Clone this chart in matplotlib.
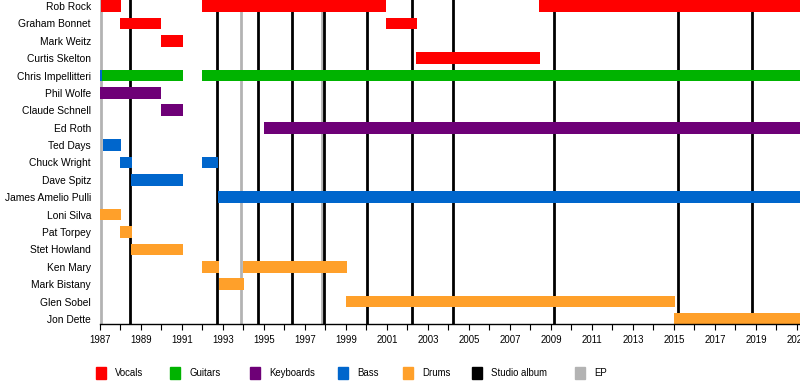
import matplotlib
matplotlib.use("Agg")
import matplotlib.pyplot as plt
from matplotlib.patches import Rectangle

FONT = ['Liberation Sans', 'DejaVu Sans']
plt.rcParams['font.family'] = FONT

members = ["Rob Rock", "Graham Bonnet", "Mark Weitz", "Curtis Skelton",
           "Chris Impellitteri", "Phil Wolfe", "Claude Schnell", "Ed Roth",
           "Ted Days", "Chuck Wright", "Dave Spitz", "James Amelio Pulli",
           "Loni Silva", "Pat Torpey", "Stet Howland", "Ken Mary",
           "Mark Bistany", "Glen Sobel", "Jon Dette"]

END = 2021.15
bar_member = ["Rob Rock", "Rob Rock", "Rob Rock",
              "Graham Bonnet", "Graham Bonnet",
              "Mark Weitz", "Curtis Skelton",
              "Chris Impellitteri", "Chris Impellitteri", "Chris Impellitteri",
              "Phil Wolfe", "Claude Schnell", "Ed Roth",
              "Ted Days", "Chuck Wright", "Chuck Wright", "Dave Spitz",
              "James Amelio Pulli",
              "Loni Silva", "Pat Torpey", "Stet Howland",
              "Ken Mary", "Ken Mary", "Mark Bistany", "Glen Sobel", "Jon Dette"]
bar_start = [1987.05, 1992.0, 2008.42,
             1988.0, 2000.93,
             1990.0, 2002.42,
             1987.0, 1987.1, 1992.0,
             1987.0, 1990.0, 1995.0,
             1987.15, 1988.0, 1992.0, 1988.5,
             1992.77,
             1987.0, 1988.0, 1988.5,
             1992.0, 1993.96, 1992.8, 1999.0, 2015.0]
bar_end = [1988.03, 2000.93, END,
           1990.0, 2002.45,
           1991.05, 2008.45,
           1987.1, 1991.05, END,
           1990.0, 1991.05, END,
           1988.03, 1988.55, 1992.75, 1991.05,
           END,
           1988.03, 1988.55, 1991.05,
           1992.82, 1999.05, 1994.02, 2015.05, END]
bar_role = ["Vocals", "Vocals", "Vocals",
            "Vocals", "Vocals",
            "Vocals", "Vocals",
            "Bass", "Guitars", "Guitars",
            "Keyboards", "Keyboards", "Keyboards",
            "Bass", "Bass", "Bass", "Bass",
            "Bass",
            "Drums", "Drums", "Drums",
            "Drums", "Drums", "Drums", "Drums", "Drums"]

studio_albums = [1988.46, 1992.70, 1994.70, 1996.38, 1997.95, 2000.04,
                 2002.20, 2004.24, 2009.16, 2015.21, 2018.83]
eps = [1987.06, 1993.90, 1997.83]

legend_labels = ["Vocals", "Guitars", "Keyboards", "Bass", "Drums",
                 "Studio album", "EP"]
colors = {"Vocals": "#FF0000", "Guitars": "#00B300", "Keyboards": "#6E0077",
          "Bass": "#0066CC", "Drums": "#FFA02A", "Studio album": "#000000",
          "EP": "#B3B3B3"}

years = list(range(1987, 2022))
year_labels = [str(y) if (y - 1987) % 2 == 0 else "" for y in years]

W, H = 800, 384
fig = plt.figure(figsize=(W / 100, H / 100), dpi=100)
ax = fig.add_axes([100 / W, 60 / H, 700 / W, 324 / H])

for x in eps:
    ax.axvline(x, color=colors["EP"], lw=2.0, zorder=1)
for x in studio_albums:
    ax.axvline(x, color=colors["Studio album"], lw=2.0, zorder=1)

idx = {m: i for i, m in enumerate(members)}
for m, s, e, r in zip(bar_member, bar_start, bar_end, bar_role):
    ax.barh(idx[m], e - s, left=s, height=0.67, color=colors[r],
            edgecolor='none', zorder=2)

ax.set_xlim(1987, END)
ax.set_ylim(18.29, -0.345)
ax.set_yticks(range(len(members)))
ax.set_yticklabels(members, fontsize=7.4, family=FONT)
ax.tick_params(axis='y', length=0, pad=6.5)
ax.set_xticks(years)
ax.set_xticklabels(year_labels, fontsize=6.9, family=FONT)
ax.tick_params(axis='x', length=4, width=0.8, pad=4, direction='out')
for sp in ['top', 'right', 'left']:
    ax.spines[sp].set_visible(False)
ax.spines['bottom'].set_linewidth(1.0)

# legend
sq_x = [96, 170, 250, 338, 403, 472, 575]
for lab, x in zip(legend_labels, sq_x):
    fig.patches.append(Rectangle((x / W, (H - 379) / H), 10 / W, 12 / H,
                                 transform=fig.transFigure,
                                 color=colors[lab]))
    fig.text((x + 19) / W, (H - 373) / H, lab, fontsize=6.9, family=FONT,
             va='center', ha='left')

fig.savefig("out.png", dpi=100)
